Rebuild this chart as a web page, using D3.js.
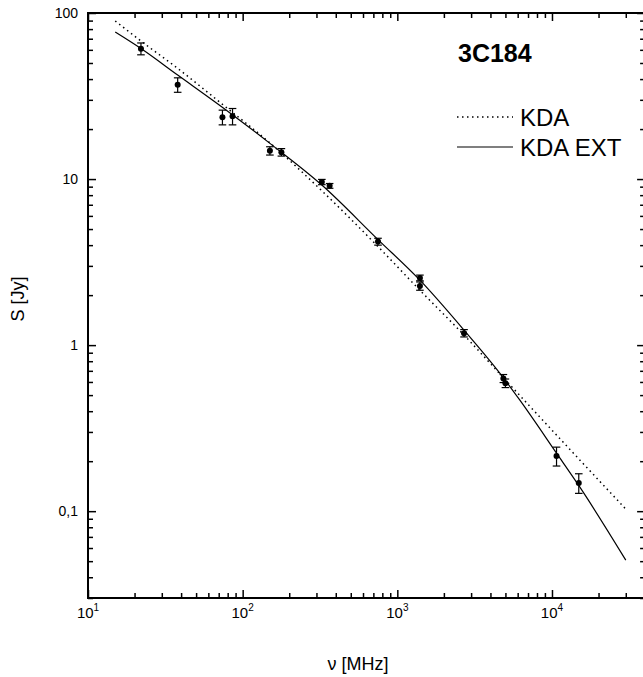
<!DOCTYPE html>
<html>
<head>
<meta charset="utf-8">
<script src="https://cdn.jsdelivr.net/npm/d3@7"></script>
<style>
  html, body { margin: 0; padding: 0; background: #fff; }
  svg { display: block; font-family: "Liberation Sans", Arial, sans-serif; }
</style>
</head>
<body>
<svg id="chart" width="643" height="677"></svg>
<script>
// Measured flux densities of 3C184 (MHz, Jy, 1-sigma error)
const obsFreq = [22, 38, 74, 86, 150, 178, 325, 365, 750, 1400, 1400, 2700, 4850, 5000, 10700, 14900];
const obsFlux = [61, 37, 23.6, 23.9, 14.8, 14.5, 9.6, 9.1, 4.2, 2.54, 2.27, 1.18, 0.63, 0.59, 0.215, 0.148];
const obsErr  = [5, 3.7, 2.4, 2.7, 0.85, 0.75, 0.35, 0.3, 0.2, 0.1, 0.13, 0.06, 0.035, 0.035, 0.028, 0.02];

// KDA model spectrum (dotted)
const kdaFreq = [15, 22, 38, 75, 150, 325, 750, 1400, 2700, 4900, 12500, 30000];
const kdaFlux = [89.5, 67.8, 46.4, 27.9, 16.5, 8.5, 3.92, 2.14, 1.149, 0.63, 0.246, 0.103];

// KDA EXT model spectrum (solid)
const extFreq = [15, 22, 38, 75, 150, 325, 750, 1400, 2700, 4900, 6200, 10700, 15000, 30000];
const extFlux = [76.8, 61.1, 42.3, 26.8, 16.4, 9.2, 4.32, 2.46, 1.23, 0.628, 0.466, 0.2236, 0.1414, 0.0507];

// Axis ticks and labels
const xMajor = [10, 100, 1000, 10000];
const xExponents = ["1", "2", "3", "4"];
const yMajor = [0.1, 1, 10, 100];
const yLabels = ["0,1", "1", "10", "100"];

const sourceName = "3C184";
const seriesNames = ["KDA", "KDA EXT"];
const xTitle = "\u03bd [MHz]";
const yTitle = "S [Jy]";

(function () {
  const svg = d3.select("#chart");

  const pLeft = 88, pRight = 645.1, pTop = 13, pBottom = 598;
  const x = d3.scaleLog().domain([10, 40000]).range([pLeft, pRight]);
  const y = d3.scaleLog().domain([0.03, 100]).range([pBottom, pTop]);

  svg.append("defs").append("clipPath").attr("id", "plot-area")
    .append("rect").attr("x", pLeft).attr("y", pTop)
    .attr("width", pRight - pLeft).attr("height", pBottom - pTop);

  const isMajor = (v, majors) => majors.some(m => Math.abs(Math.log10(v) - Math.log10(m)) < 1e-6);
  const xMinor = x.ticks().filter(v => !isMajor(v, xMajor));
  const yMinor = y.ticks().filter(v => !isMajor(v, yMajor));

  function drawAxis(axisFn, scale, values, size, tx, ty) {
    const g = svg.append("g")
      .attr("transform", `translate(${tx},${ty})`)
      .call(axisFn(scale).tickValues(values).tickSizeInner(-size).tickSizeOuter(0).tickFormat(""));
    g.select(".domain").remove();
    g.selectAll(".tick line").attr("stroke", "#000").attr("stroke-width", 1.5);
    return g;
  }

  // inward ticks on all four sides
  drawAxis(d3.axisBottom, x, xMinor, 5, 0, pBottom);
  drawAxis(d3.axisBottom, x, xMajor, 8, 0, pBottom);
  drawAxis(d3.axisTop, x, xMinor, 5, 0, pTop);
  drawAxis(d3.axisTop, x, xMajor, 8, 0, pTop);
  drawAxis(d3.axisLeft, y, yMinor, 5, pLeft, 0);
  drawAxis(d3.axisLeft, y, yMajor, 8, pLeft, 0);
  drawAxis(d3.axisRight, y, yMinor, 5, pRight, 0);
  drawAxis(d3.axisRight, y, yMajor, 8, pRight, 0);

  // frame
  svg.append("rect")
    .attr("x", pLeft).attr("y", pTop).attr("width", pRight - pLeft).attr("height", pBottom - pTop)
    .attr("fill", "none").attr("stroke", "#000").attr("stroke-width", 2);

  // y tick labels
  svg.append("g").selectAll("text").data(yMajor).join("text")
    .attr("x", pLeft - 10).attr("y", d => y(d)).attr("dy", "0.36em")
    .attr("text-anchor", "end").attr("font-size", 14).attr("fill", "#000")
    .text((d, i) => yLabels[i]);

  // x tick labels as powers of ten
  const xl = svg.append("g").selectAll("text").data(xMajor).join("text")
    .attr("x", d => x(d)).attr("y", 618)
    .attr("text-anchor", "middle").attr("font-size", 15).attr("fill", "#000");
  xl.append("tspan").text("10");
  xl.append("tspan").attr("dy", -7).attr("font-size", 10).text((d, i) => xExponents[i]);

  // axis titles
  svg.append("text").attr("x", 358).attr("y", 670).attr("text-anchor", "middle")
    .attr("font-size", 18).text(xTitle);
  svg.append("text").attr("transform", "translate(24,299) rotate(-90)").attr("text-anchor", "middle")
    .attr("font-size", 18).text(yTitle);

  // model curves
  const line = d3.line().x(d => x(d[0])).y(d => y(d[1])).curve(d3.curveMonotoneX);
  const plot = svg.append("g").attr("clip-path", "url(#plot-area)");

  plot.append("path")
    .datum(kdaFreq.map((f, i) => [f, kdaFlux[i]]))
    .attr("d", line).attr("fill", "none").attr("stroke", "#000")
    .attr("stroke-width", 1.5).attr("stroke-dasharray", "1.5 3.5");

  plot.append("path")
    .datum(extFreq.map((f, i) => [f, extFlux[i]]))
    .attr("d", line).attr("fill", "none").attr("stroke", "#000").attr("stroke-width", 1.2);

  // measurements with error bars
  const obs = obsFreq.map((f, i) => ({ f, s: obsFlux[i], e: obsErr[i] }));
  const pts = plot.append("g").selectAll("g").data(obs).join("g");
  const cap = 3.8;
  pts.append("line")
    .attr("x1", d => x(d.f)).attr("x2", d => x(d.f))
    .attr("y1", d => y(d.s + d.e)).attr("y2", d => y(d.s - d.e))
    .attr("stroke", "#000").attr("stroke-width", 1.2);
  pts.append("line")
    .attr("x1", d => x(d.f) - cap).attr("x2", d => x(d.f) + cap)
    .attr("y1", d => y(d.s + d.e)).attr("y2", d => y(d.s + d.e))
    .attr("stroke", "#000").attr("stroke-width", 1.2);
  pts.append("line")
    .attr("x1", d => x(d.f) - cap).attr("x2", d => x(d.f) + cap)
    .attr("y1", d => y(d.s - d.e)).attr("y2", d => y(d.s - d.e))
    .attr("stroke", "#000").attr("stroke-width", 1.2);
  pts.append("circle")
    .attr("cx", d => x(d.f)).attr("cy", d => y(d.s)).attr("r", 3).attr("fill", "#000");

  // source name and legend
  svg.append("text").attr("x", 458).attr("y", 62).attr("font-size", 25).attr("font-weight", "bold")
    .text(sourceName);

  const legend = svg.append("g");
  const legendRows = [
    { name: seriesNames[0], y: 117, dash: "1.5 3.5", w: 1.5 },
    { name: seriesNames[1], y: 147, dash: null, w: 1.2 }
  ];
  legendRows.forEach(r => {
    legend.append("line").attr("x1", 457).attr("x2", 513).attr("y1", r.y).attr("y2", r.y)
      .attr("stroke", "#000").attr("stroke-width", r.w).attr("stroke-dasharray", r.dash);
    legend.append("text").attr("x", 520).attr("y", r.y + 8.5).attr("font-size", 24).text(r.name);
  });
})();
</script>
</body>
</html>
